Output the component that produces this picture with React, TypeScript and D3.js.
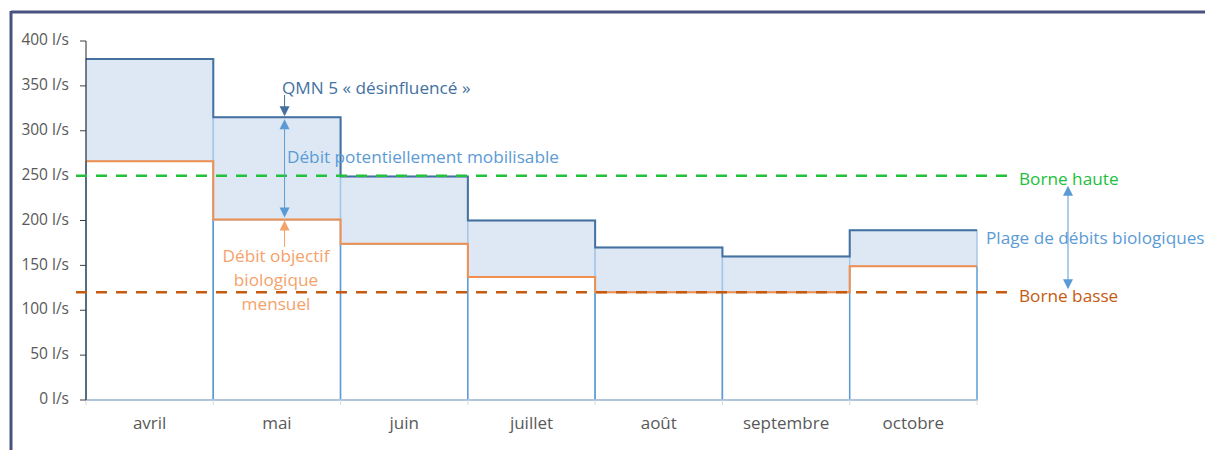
import React from "react";
import * as d3 from "d3";

// months on the x axis
const months = ["avril", "mai", "juin", "juillet", "août", "septembre", "octobre"];
// QMN 5 « désinfluencé » (l/s)
const qmn5 = [380, 315, 249, 200, 170, 160, 189];
// Débit objectif biologique mensuel (l/s)
const objectif = [266, 201, 174, 137, 120, 120, 149];
const yTicks = [0, 50, 100, 150, 200, 250, 300, 350, 400];
const borneHaute = 250;
const borneBasse = 120;

const W = 1205;
const H = 450;
const FONT = "'Open Sans', 'Noto Sans', sans-serif";
const ANNOT = 17.2;

const x = d3.scaleBand<string>().domain(months).range([86, 977]).padding(0);
const y = d3.scaleLinear().domain([0, 400]).range([400, 41]);

const stepLine = (vals: number[]) => {
  const pts: [number, number][] = vals.map((v, i) => [x(months[i])!, y(v)]);
  pts.push([x.range()[1], y(vals[vals.length - 1])]);
  return d3.line().curve(d3.curveStepAfter)(pts) || "";
};

const Arrow = ({ cx, tip, dir, color }: { cx: number; tip: number; dir: "up" | "down"; color: string }) => {
  const h = dir === "down" ? -10 : 10;
  return <path d={`M${cx},${tip} L${cx - 5},${tip + h} L${cx + 5},${tip + h} Z`} fill={color} />;
};

export default function App() {
  const bw = x.bandwidth();
  const ax = x("mai")! + bw * 0.56;
  const rx = 1068;
  return (
    <svg width={W} height={H} style={{ position: "absolute", left: 0, top: 0, background: "#fff" }}>
      {/* frame */}
      <line x1={11} x2={W} y1={12} y2={12} stroke="#4a5280" strokeWidth={3} />
      <line x1={11} x2={11} y1={11} y2={H} stroke="#4a5280" strokeWidth={3} />

      {/* stacked columns */}
      {months.map((m, i) => (
        <g key={m}>
          <rect x={x(m)} y={y(objectif[i])} width={bw} height={y(0) - y(objectif[i])}
            fill="#fff" stroke="#5b9bd5" strokeWidth={1.5} />
          <rect x={x(m)} y={y(qmn5[i])} width={bw} height={y(objectif[i]) - y(qmn5[i])}
            fill="#dde8f4" stroke="#a6c8e8" strokeWidth={1.5} />
        </g>
      ))}

      {/* step lines */}
      <path d={stepLine(objectif)} fill="none" stroke="#ef8f50" strokeWidth={2} />
      <path d={stepLine(qmn5)} fill="none" stroke="#44719f" strokeWidth={2} />

      {/* x axis */}
      <line x1={86} x2={977} y1={y(0)} y2={y(0)} stroke="#bfcbd9" strokeWidth={1.5} />
      {months.map((m) => (
        <line key={m} x1={x(m)} x2={x(m)} y1={y(0)} y2={y(0) + 5} stroke="#d9d9d9" />
      ))}
      <line x1={977} x2={977} y1={y(0)} y2={y(0) + 5} stroke="#d9d9d9" />
      {months.map((m) => (
        <text key={m} x={x(m)! + bw / 2} y={424} textAnchor="middle" dominantBaseline="middle"
          fontFamily={FONT} fontSize={17} fill="#595959">{m}</text>
      ))}

      {/* y axis */}
      <line x1={86} x2={86} y1={y(400)} y2={y(0)} stroke="#262626" strokeWidth={1} />
      {yTicks.map((t) => (
        <g key={t}>
          <line x1={80} x2={86} y1={y(t)} y2={y(t)} stroke="#404040" />
          <text x={69} y={y(t)} textAnchor="end" dominantBaseline="middle"
            fontFamily={FONT} fontSize={15.5} fill="#595959">{`${t} l/s`}</text>
        </g>
      ))}

      {/* bornes */}
      <line x1={76} x2={1010} y1={y(borneHaute)} y2={y(borneHaute)} stroke="#22c03c" strokeWidth={2.5} strokeDasharray="11 9" />
      <line x1={76} x2={1010} y1={y(borneBasse)} y2={y(borneBasse)} stroke="#c55a11" strokeWidth={2.5} strokeDasharray="11 9" />
      <text x={1019} y={y(borneHaute) + 5} dominantBaseline="middle" fontFamily={FONT} fontSize={ANNOT} fill="#22c03c">Borne haute</text>
      <text x={1019} y={y(borneBasse) + 5} dominantBaseline="middle" fontFamily={FONT} fontSize={ANNOT} fill="#c55a11">Borne basse</text>

      {/* plage de débits biologiques */}
      <line x1={rx} x2={rx} y1={y(borneHaute) + 16} y2={y(borneBasse) - 10} stroke="#5b9bd5" strokeWidth={1} />
      <Arrow cx={rx} tip={y(borneHaute) + 10} dir="up" color="#5b9bd5" />
      <Arrow cx={rx} tip={y(borneBasse) - 3} dir="down" color="#5b9bd5" />
      <text x={986} y={239} dominantBaseline="middle" fontFamily={FONT} fontSize={ANNOT} fill="#5b9bd5">Plage de débits biologiques</text>

      {/* QMN annotation */}
      <line x1={ax} x2={ax} y1={95} y2={y(qmn5[1]) - 8} stroke="#44719f" strokeWidth={1} />
      <Arrow cx={ax} tip={y(qmn5[1]) - 1} dir="down" color="#44719f" />
      <text x={282} y={89} dominantBaseline="middle" fontFamily={FONT} fontSize={ANNOT} fill="#44719f">QMN 5 « désinfluencé »</text>

      {/* débit potentiellement mobilisable */}
      <line x1={ax} x2={ax} y1={y(qmn5[1]) + 10} y2={y(objectif[1]) - 10} stroke="#5b9bd5" strokeWidth={1} />
      <Arrow cx={ax} tip={y(qmn5[1]) + 2} dir="up" color="#5b9bd5" />
      <Arrow cx={ax} tip={y(objectif[1]) - 2} dir="down" color="#5b9bd5" />
      <text x={287} y={158} dominantBaseline="middle" fontFamily={FONT} fontSize={ANNOT} fill="#5b9bd5">Débit potentiellement mobilisable</text>

      {/* débit objectif biologique */}
      <line x1={ax} x2={ax} y1={y(objectif[1]) + 10} y2={247} stroke="#f4a26b" strokeWidth={1} />
      <Arrow cx={ax} tip={y(objectif[1]) + 1} dir="up" color="#f4a26b" />
      {["Débit objectif", "biologique", "mensuel"].map((s, i) => (
        <text key={s} x={276} y={257 + i * 24} textAnchor="middle" dominantBaseline="middle"
          fontFamily={FONT} fontSize={ANNOT} fill="#f4a26b">{s}</text>
      ))}
    </svg>
  );
}
